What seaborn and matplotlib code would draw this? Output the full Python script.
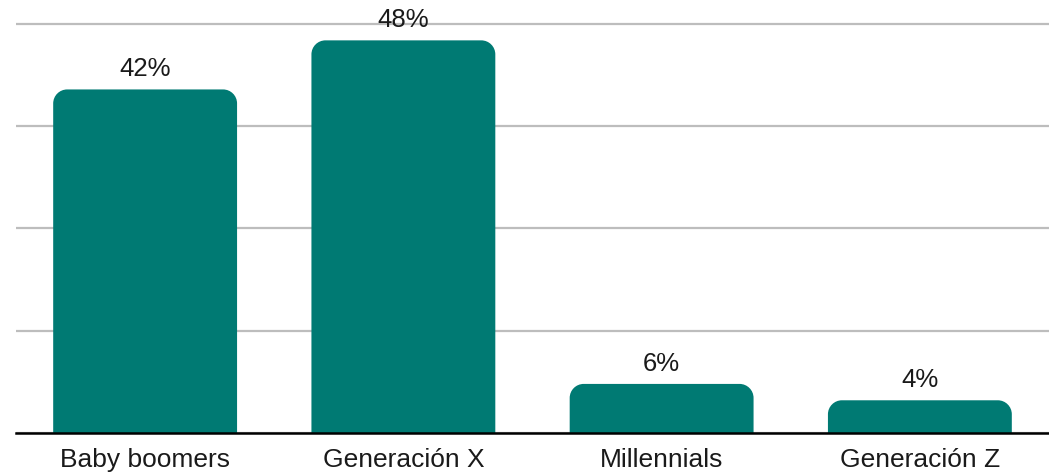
import numpy as np
import pandas as pd
import matplotlib
matplotlib.use("Agg")
import matplotlib.pyplot as plt
import seaborn as sns
from matplotlib.path import Path
from matplotlib.patches import PathPatch

categories = ["Baby boomers", "Generación X", "Millennials", "Generación Z"]
values = [42, 48, 6, 4]
value_labels = ["42%", "48%", "6%", "4%"]
grid_ticks = [0, 12.5, 25, 37.5, 50]

BAR_COLOR = "#007A73"

sns.set_theme(style="white")
plt.rcParams["font.family"] = ["Liberation Sans", "DejaVu Sans"]

W, H = 1049, 475
fig = plt.figure(figsize=(W / 100, H / 100), dpi=100)
ax = fig.add_axes([16 / W, 42 / H, 1 - 16 / W, 1 - 42 / H])

df = pd.DataFrame({"cat": categories, "val": values})
sns.barplot(data=df, x="cat", y="val", color=BAR_COLOR, saturation=1,
            width=0.712, ax=ax, zorder=3)

ax.set_xlim(-0.5, 3.5)
ax.set_ylim(0, 433 / 8.18)
ax.set_yticks(grid_ticks)
ax.yaxis.grid(True, color="#BDBDBD", linewidth=1.6, zorder=0)
ax.set_axisbelow(True)
ax.tick_params(axis="y", left=False, labelleft=False)
ax.tick_params(axis="x", bottom=False, pad=5, labelsize=19, labelcolor="#1a1a1a")
ax.set_xlabel("")
ax.set_ylabel("")
for s in ["top", "right", "left"]:
    ax.spines[s].set_visible(False)
ax.spines["bottom"].set_color("black")
ax.spines["bottom"].set_linewidth(1.8)
ax.spines["bottom"].set_zorder(5)

# Rounded top corners
fig.canvas.draw()
px_x = (ax.transData.transform((1, 0))[0] - ax.transData.transform((0, 0))[0])
px_y = (ax.transData.transform((0, 1))[1] - ax.transData.transform((0, 0))[1])
r_px = 14
rx, ry = r_px / px_x, r_px / px_y
k = 0.5523
for p in list(ax.patches):
    x0, y0 = p.get_x(), p.get_y()
    w, h = p.get_width(), p.get_height()
    x1, y1 = x0 + w, y0 + h
    ryy = min(ry, h)
    verts = [
        (x0, y0),
        (x0, y1 - ryy),
        (x0, y1 - ryy + k * ryy), (x0 + rx - k * rx, y1), (x0 + rx, y1),
        (x1 - rx, y1),
        (x1 - rx + k * rx, y1), (x1, y1 - ryy + k * ryy), (x1, y1 - ryy),
        (x1, y0),
        (x0, y0),
    ]
    codes = [Path.MOVETO, Path.LINETO,
             Path.CURVE4, Path.CURVE4, Path.CURVE4,
             Path.LINETO,
             Path.CURVE4, Path.CURVE4, Path.CURVE4,
             Path.LINETO, Path.CLOSEPOLY]
    pp = PathPatch(Path(verts, codes), facecolor=BAR_COLOR, edgecolor="none", zorder=3)
    ax.add_patch(pp)
    p.remove()

for i, (v, t) in enumerate(zip(values, value_labels)):
    ax.annotate(t, (i, v), xytext=(0, 6), textcoords="offset points",
                ha="center", va="bottom", fontsize=18.5,
                color="#1a1a1a", zorder=6)

fig.savefig("out.png", dpi=100)
